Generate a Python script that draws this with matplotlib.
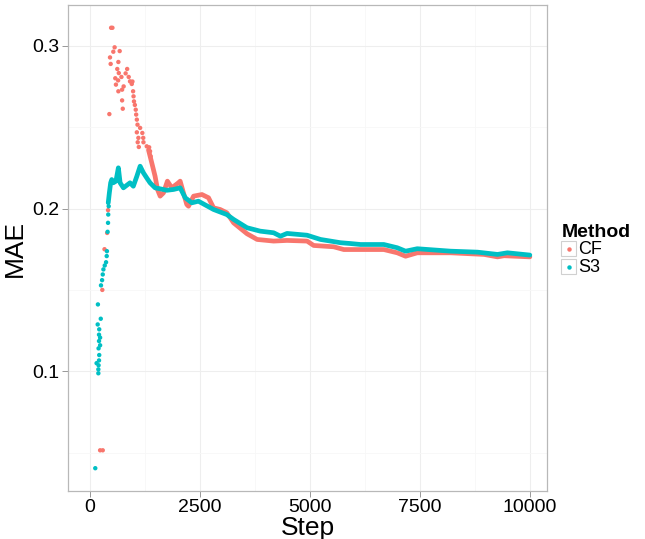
import numpy as np
import matplotlib
matplotlib.use("Agg")
import matplotlib.pyplot as plt
from matplotlib.patches import Rectangle
from matplotlib.lines import Line2D

plt.rcParams['font.family'] = ['Liberation Sans', 'DejaVu Sans']

# Цвета ggplot по умолчанию
col_cf = "#F8766D"
col_s3 = "#00BFC4"

# CF: разреженные точки в начале (шаг, MAE)
cf_pts_step = [230, 290, 280, 330, 390, 410, 440, 480, 510, 560, 530, 675, 455, 470,
               645, 620, 845, 655, 810, 575, 715, 880, 640, 910, 590, 965, 765, 950,
               730, 645, 980, 990, 730, 1000, 1020, 745, 1040, 1050, 1065, 1080, 1140,
               1065, 1190, 1100, 1210, 1085, 1215, 1290, 1110, 1345, 1365, 1380]
cf_pts_mae = [0.0515, 0.0515, 0.150, 0.175, 0.185, 0.199, 0.258, 0.311, 0.311, 0.299,
              0.2963, 0.2967, 0.2928, 0.2888, 0.290, 0.2857, 0.2857, 0.2832, 0.283,
              0.280, 0.2808, 0.2808, 0.2787, 0.2781, 0.2761, 0.278, 0.275, 0.2765,
              0.273, 0.272, 0.272, 0.2689, 0.2664, 0.2658, 0.2636, 0.2613, 0.2607,
              0.2577, 0.2546, 0.2515, 0.2495, 0.2468, 0.2464, 0.2434, 0.2434, 0.2407,
              0.2407, 0.2382, 0.2378, 0.2376, 0.2352, 0.232]

# CF: плотная часть кривой
cf_line_step = [1330, 1405, 1480, 1535, 1595, 1670, 1760, 1860, 2010, 2050, 2125, 2200,
                2240, 2355, 2545, 2695, 2810, 2960, 3110, 3265, 3570, 3800, 4175, 4480,
                4935, 5085, 5540, 5770, 6150, 6680, 6985, 7175, 7440, 8200, 8960, 9265,
                9415, 10000]
cf_line_mae = [0.236, 0.228, 0.2198, 0.2117, 0.2076, 0.2096, 0.2168, 0.2127, 0.2158,
               0.2168, 0.2096, 0.2025, 0.2014, 0.2076, 0.2086, 0.2066, 0.2004, 0.1994,
               0.1974, 0.1912, 0.1845, 0.181, 0.180, 0.1804, 0.180, 0.1773, 0.1765,
               0.1748, 0.1748, 0.1748, 0.1728, 0.1707, 0.1728, 0.1728, 0.1718, 0.1703,
               0.171, 0.1703]

# S3: разреженные точки в начале
s3_pts_step = [120, 190, 190, 150, 195, 205, 210, 195, 230, 205, 230, 205, 210, 175,
               245, 180, 250, 275, 290, 305, 335, 365, 380, 385, 400, 410, 415, 425]
s3_pts_mae = [0.0405, 0.0988, 0.1012, 0.105, 0.1037, 0.1067, 0.110, 0.1141, 0.116,
              0.1186, 0.1207, 0.1225, 0.1258, 0.1288, 0.1323, 0.1411, 0.1528, 0.156,
              0.1595, 0.1626, 0.165, 0.167, 0.1708, 0.1738, 0.1857, 0.1912, 0.1963,
              0.2014]

# S3: плотная часть кривой
s3_line_step = [415, 440, 470, 495, 530, 590, 645, 685, 760, 910, 985, 1065, 1140, 1215,
                1290, 1365, 1480, 1595, 1745, 1900, 2050, 2165, 2315, 2465, 2810, 3110,
                3265, 3570, 3870, 4175, 4330, 4480, 4935, 5240, 5695, 5920, 6150, 6680,
                6985, 7175, 7440, 8200, 8810, 9265, 9490, 10000]
s3_line_mae = [0.2035, 0.2096, 0.2158, 0.2178, 0.2158, 0.2168, 0.225, 0.2158, 0.2127,
               0.2158, 0.2137, 0.2198, 0.226, 0.2219, 0.2188, 0.2158, 0.2127, 0.2121,
               0.2112, 0.2117, 0.2127, 0.2066, 0.2035, 0.2045, 0.1994, 0.1963, 0.1933,
               0.1882, 0.1861, 0.1851, 0.183, 0.1847, 0.1836, 0.181, 0.179, 0.1785,
               0.1779, 0.1779, 0.1759, 0.1738, 0.1753, 0.1738, 0.1732, 0.1718, 0.1728,
               0.1714]

methods = ["CF", "S3"]
x_ticks = [0, 2500, 5000, 7500, 10000]
y_ticks = [0.1, 0.2, 0.3]

fig = plt.figure(figsize=(6.45, 5.39), dpi=100)
ax = fig.add_axes([68 / 645, 1 - 491 / 539, (547 - 68) / 645, (491 - 5) / 539])

# Сетка как в theme_bw
ax.set_xticks(x_ticks)
ax.set_yticks(y_ticks)
ax.set_xticks([1250, 3750, 6250, 8750], minor=True)
ax.set_yticks([0.05, 0.15, 0.25], minor=True)
ax.grid(True, which="major", color="#EEEEEE", linewidth=0.8)
ax.grid(True, which="minor", color="#F7F7F7", linewidth=0.6)
ax.set_axisbelow(True)

# CF
ax.plot(cf_line_step, cf_line_mae, color=col_cf, linewidth=3.4,
        solid_capstyle="round", solid_joinstyle="round")
ax.scatter(cf_pts_step, cf_pts_mae, s=10, color=col_cf, edgecolors="none")
# S3
ax.plot(s3_line_step, s3_line_mae, color=col_s3, linewidth=3.4,
        solid_capstyle="round", solid_joinstyle="round")
ax.scatter(s3_pts_step, s3_pts_mae, s=10, color=col_s3, edgecolors="none")

ax.set_xlim(-500, 10390)
ax.set_ylim(0.0265, 0.325)
ax.set_xticklabels([str(t) for t in x_ticks])
ax.set_yticklabels([f"{t:.1f}" for t in y_ticks])

for sp in ax.spines.values():
    sp.set_color("#B8B8B8")
    sp.set_linewidth(0.9)
ax.tick_params(which="major", length=4, width=0.6, color="#888888",
               labelsize=14, pad=2, labelcolor="black")
ax.tick_params(which="minor", length=0)

ax.set_xlabel("Step", fontsize=19, labelpad=0)
ax.set_ylabel("MAE", fontsize=19, labelpad=4)

# Легенда вручную, в стиле ggplot
fig.text(562 / 645, 1 - 237 / 539, "Method", fontsize=14, fontweight="bold",
         ha="left", va="baseline")
key_cols = [col_cf, col_s3]
for i, (m, c) in enumerate(zip(methods, key_cols)):
    top = 241 + i * 18
    fig.add_artist(Rectangle((561 / 645, 1 - (top + 15) / 539), 15 / 645, 15 / 539,
                             transform=fig.transFigure, facecolor="white",
                             edgecolor="#D0D0D0", linewidth=0.8))
    fig.add_artist(Line2D([568.5 / 645], [1 - (top + 7.5) / 539], marker="o",
                          markersize=3.2, color=c, markeredgewidth=0,
                          transform=fig.transFigure))
    fig.text(578 / 645, 1 - (top + 8) / 539, m, fontsize=13, ha="left", va="center")

fig.savefig("out.png", dpi=100)
